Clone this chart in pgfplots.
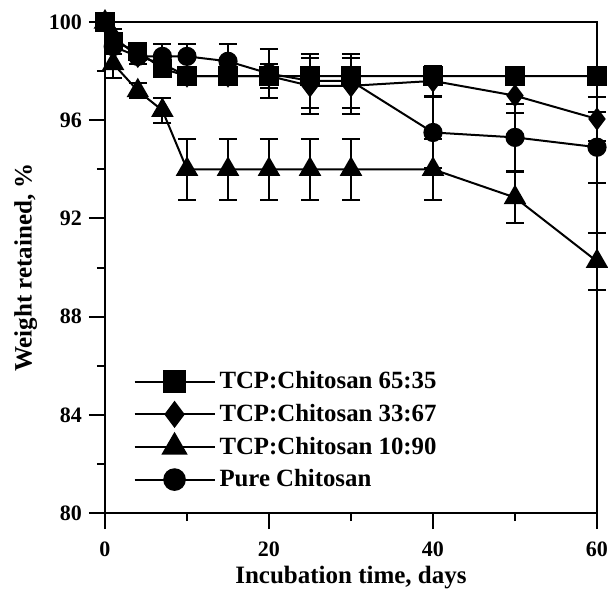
\documentclass[border=0pt]{standalone}
\usepackage{fontspec}
\setmainfont{Liberation Serif}
\usepackage{pgfplots}
\usepackage{pgfplotstable}
\pgfplotsset{compat=1.18}

% days, weight retained (%), error
\pgfplotstableread{
x y e
0 100 0.1
1 99.2 0.3
4 98.8 0.3
7 98.1 0.3
10 97.8 0.3
15 97.8 0.3
20 97.8 0.3
25 97.8 0.3
30 97.8 0.3
40 97.8 0.2
50 97.8 0.2
60 97.8 0.2
}\squaredata
\pgfplotstableread{
x y e
0 100 0.1
1 99.4 0.3
4 98.6 0.3
7 98.3 0.3
10 97.8 0.3
15 97.8 0.3
20 97.8 0.5
25 97.4 1.15
30 97.4 1.15
40 97.6 0.6
50 97.0 0.7
60 96.05 0.9
}\diamonddata
\pgfplotstableread{
x y e
0 100 0.1
1 98.3 0.6
4 97.2 0.3
7 96.4 0.5
10 94.0 1.25
15 94.0 1.25
20 94.0 1.25
25 94.0 1.25
30 94.0 1.25
40 94.0 1.25
50 92.85 1.05
60 90.25 1.15
}\triangledata
\pgfplotstableread{
x y e
0 100 0.1
1 99.0 0.3
4 98.6 0.3
7 98.6 0.5
10 98.6 0.5
15 98.4 0.7
20 97.9 1.0
25 97.6 1.1
30 97.6 1.1
40 95.5 1.45
50 95.3 1.35
60 94.9 1.45
}\circledata

\begin{document}
\begin{tikzpicture}
\begin{axis}[
  scale only axis,
  width=246pt, height=245.5pt,
  xmin=0, xmax=60, ymin=80, ymax=100,
  xtick={0,20,40,60}, minor x tick num=1,
  ytick={80,84,88,92,96,100}, minor y tick num=1,
  xtick pos=bottom, ytick pos=left,
  tick align=outside,
  major tick length=8pt, minor tick length=4pt,
  axis line style={line width=1pt},
  every tick/.style={line width=1pt, black},
  /pgf/number format/assume math mode=true,
  ticklabel style={font=\fontsize{11}{13}\selectfont\bfseries},
  xticklabel style={yshift=-3pt},
  xlabel={Incubation time, days},
  ylabel={Weight retained, \%},
  label style={font=\fontsize{12.5}{14}\selectfont\bfseries},
  xlabel style={yshift=2.5pt},
  ylabel style={yshift=-1pt},
  clip=false,
  every axis plot/.append style={black, line width=1pt,
    error bars/y dir=both, error bars/y explicit,
    error bars/error bar style={line width=1pt},
    error bars/error mark options={black, line width=1pt, mark size=4.5pt, rotate=90}},
  legend style={draw=none, fill=none, at={(0.045,0.305)}, anchor=north west,
    font=\fontsize{12.4}{14}\selectfont\bfseries, row sep=2.2pt,
    cells={anchor=west}},
  legend image code/.code={
    \draw[mark repeat=2, mark phase=2, #1, every mark/.append style={scale=1.2}]
      plot coordinates {(0pt,0pt) (20pt,0pt) (40pt,0pt)};
  },
]
\addplot[mark=square*, mark size=4.3pt] table[x=x, y=y, y error=e] {\squaredata};
\addlegendentry{TCP:Chitosan 65:35}
\addplot[mark=diamond*, mark size=5pt] table[x=x, y=y, y error=e] {\diamonddata};
\addlegendentry{TCP:Chitosan 33:67}
\addplot[mark=triangle*, mark size=5.5pt] table[x=x, y=y, y error=e] {\triangledata};
\addlegendentry{TCP:Chitosan 10:90}
\addplot[mark=*, mark size=4.3pt] table[x=x, y=y, y error=e] {\circledata};
\addlegendentry{Pure Chitosan}
\end{axis}
\pgfresetboundingbox
\path (current axis.south west) ++(-52.5pt,-38.5pt) coordinate (bl);
\path (current axis.south west) ++(251.5pt,256.5pt) coordinate (tr);
\path (bl) rectangle (tr);
\end{tikzpicture}
\end{document}
